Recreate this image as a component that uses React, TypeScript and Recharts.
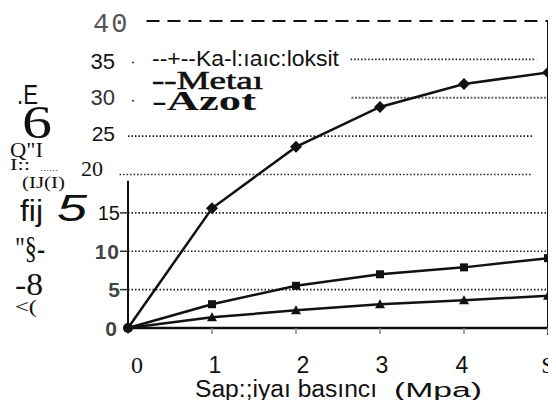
import React from "react";
import {
  LineChart,
  Line,
  XAxis,
  YAxis,
  ReferenceLine,
  ReferenceDot,
} from "recharts";

// values
const pressure = [0, 1, 2, 3, 4, 5];
const karbondioksit = [0, 15.6, 23.6, 28.8, 31.8, 33.3];
const metan = [0, 3.1, 5.5, 7.0, 7.9, 9.1];
const azot = [0, 1.4, 2.3, 3.1, 3.6, 4.2];
const yTicks = [0, 5, 10, 15, 20, 25, 30, 35, 40];
const xTickLabels = ["0", "1", "2", "3", "4", "S"];
const seriesNames = ["Ka-l:ıaıc:loksit", "Metaı", "Azot"];
const legendPrefixes = ["--+--", "--", "-"];
const xTitle = "Sap:;iyaı basıncı";
const xUnit = "(Mpa)";

const data = pressure.map((p, i) => ({
  p,
  co2: karbondioksit[i],
  ch4: metan[i],
  n2: azot[i],
}));

const SANS = "'Liberation Sans', Arial, sans-serif";
const SERIF = "'Liberation Serif', 'Times New Roman', serif";
const MONO = "'Liberation Mono', 'DejaVu Sans Mono', monospace";

// per-tick look of the y labels (they are all a bit different in the scan)
const yTickLook: Record<number, any> = {
  40: { x: 85, anchor: "start", font: MONO, size: 27, fill: "#555", dy: 4, ls: 2 },
  35: { x: 107, anchor: "end", font: SANS, size: 22, fill: "#111", dy: 2, dot: true },
  30: { x: 107, anchor: "end", font: SANS, size: 22, fill: "#333", dy: 0, dot: true },
  25: { x: 107, anchor: "end", font: SANS, size: 21, fill: "#111", dy: -3 },
  20: { x: 95, anchor: "end", font: SERIF, size: 22, fill: "#111", dy: -6 },
  15: { x: 112, anchor: "end", font: SANS, size: 20, fill: "#111", dy: 0, mark: true },
  10: { x: 112, anchor: "end", font: SANS, size: 21, fill: "#444", weight: 700, dy: 0, ls: 1, mark: true },
  5: { x: 112, anchor: "end", font: SANS, size: 21, fill: "#444", weight: 700, dy: 0, mark: true },
  0: { x: 109, anchor: "end", font: SANS, size: 21, fill: "#444", weight: 700, dy: 0 },
};

// label centres are a little off the tick positions in the scan
const xTickShift = [9, 3, 7, 2, -2, 0];

function YTick(props: any) {
  const { y, payload } = props;
  const look = yTickLook[payload.value];
  if (!look) return <g />;
  return (
    <g>
      <text
        x={look.x}
        y={y + look.dy}
        textAnchor={look.anchor}
        dominantBaseline="central"
        fontFamily={look.font}
        fontSize={look.size}
        fontWeight={look.weight || 400}
        fill={look.fill}
        letterSpacing={look.ls || 0}
      >
        {payload.value}
      </text>
      {look.dot && <circle cx={125} cy={y + 3} r={1} fill="#333" />}
      {look.mark && <line x1={112} x2={120} y1={y} y2={y} stroke="#333" strokeWidth={1.5} />}
    </g>
  );
}

function XTick(props: any) {
  const { x, payload, index } = props;
  const label = xTickLabels[index] ?? String(payload.value);
  const serif = label === "S" || label === "0";
  return (
    <text
      x={x + (xTickShift[index] || 0)}
      y={357}
      textAnchor="middle"
      dominantBaseline="central"
      fontFamily={serif ? SERIF : SANS}
      fontSize={serif ? 24 : 23}
      fill="#111"
    >
      {label}
    </text>
  );
}

function marker(kind: string) {
  return (props: any) => {
    const { cx, cy, index, payload } = props;
    if (payload.p === 0 || cx == null) return <g key={`m-${kind}-${index}`} />;
    if (kind === "diamond") {
      const s = 6;
      return (
        <polygon
          key={`m-${kind}-${index}`}
          points={`${cx},${cy - s} ${cx + s},${cy} ${cx},${cy + s} ${cx - s},${cy}`}
          fill="#111"
        />
      );
    }
    if (kind === "square") {
      return <rect key={`m-${kind}-${index}`} x={cx - 4} y={cy - 4} width={8} height={8} fill="#111" />;
    }
    return (
      <polygon
        key={`m-${kind}-${index}`}
        points={`${cx},${cy - 5} ${cx + 5},${cy + 4} ${cx - 5},${cy + 4}`}
        fill="#111"
      />
    );
  };
}

const legendLook = [
  { font: SANS, size: 22, y: 50, len: 187, weight: 400, sw: 0 },
  { font: SERIF, size: 25, y: 72, len: 111, weight: 400, sw: 0.6 },
  { font: SERIF, size: 27, y: 93, len: 104, weight: 700, sw: 0 },
];

const dotted = { stroke: "#222", strokeWidth: 1.6, strokeDasharray: "1.5 2" };

// loose text bits of the y title, as they appear in the scan
const yTitleBits = [
  { t: ".E", x: 9, y: 86, font: SANS, size: 28, len: 21 },
  { t: "6", x: 14, y: 114, font: SERIF, size: 46, len: 30 },
  { t: 'Q"I', x: 2, y: 142, font: SERIF, size: 20, len: 33 },
  { t: "I::", x: 2, y: 156, font: SERIF, size: 16, len: 20 },
  { t: "......", x: 32, y: 160, font: SANS, size: 8, len: 18 },
  { t: "(IJ(I)", x: 14, y: 174, font: SERIF, size: 17, len: 43 },
  { t: "fij", x: 12, y: 202, font: SANS, size: 30, len: 23 },
  { t: "5", x: 49, y: 200, font: SANS, size: 36, len: 30, italic: true },
  { t: '"§-', x: 7, y: 240, font: SERIF, size: 32, len: 30 },
  { t: "-8", x: 7, y: 276, font: SERIF, size: 32, len: 28 },
  { t: "<(", x: 7, y: 299, font: SERIF, size: 18, len: 22 },
];

export default function App() {
  return (
    <div style={{ position: "relative", width: 548, height: 392 }}>
      <style>{"svg { overflow: visible; }"}</style>
      <LineChart
        width={548}
        height={392}
        data={data}
        margin={{ top: 13, right: 8, left: 60, bottom: 0 }}
      >
        <XAxis
          dataKey="p"
          type="number"
          domain={[0, 5]}
          ticks={pressure}
          axisLine={false}
          tickLine={{ stroke: "#888", strokeWidth: 1.5 }}
          tickSize={6}
          height={72}
          tick={<XTick />}
          interval={0}
        />
        <YAxis
          type="number"
          domain={[0, 40]}
          ticks={yTicks}
          axisLine={false}
          tickLine={false}
          width={60}
          tick={<YTick />}
          interval={0}
        />
        <ReferenceLine
          ifOverflow="visible"
          segment={[{ x: 0.22, y: 40 }, { x: 5, y: 40 }]}
          stroke="#111"
          strokeWidth={2}
          strokeDasharray="13 8"
        />
        <ReferenceLine ifOverflow="visible" segment={[{ x: 2.65, y: 35 }, { x: 4.86, y: 35 }]} {...dotted} />
        <ReferenceLine
          ifOverflow="visible"
          segment={[{ x: 2.66, y: 30 }, { x: 5, y: 30 }]}
          stroke="#666"
          strokeWidth={2}
          strokeDasharray="2 1.5"
        />
        <ReferenceLine ifOverflow="visible" segment={[{ x: 0, y: 25 }, { x: 4.83, y: 25 }]} {...dotted} />
        <ReferenceLine ifOverflow="visible" segment={[{ x: -0.1, y: 20 }, { x: 4.8, y: 20 }]} {...dotted} />
        <ReferenceLine ifOverflow="visible" segment={[{ x: 0, y: 15 }, { x: 5, y: 15 }]} {...dotted} />
        <ReferenceLine ifOverflow="visible" segment={[{ x: 0, y: 10 }, { x: 5, y: 10 }]} {...dotted} />
        <ReferenceLine ifOverflow="visible" segment={[{ x: 0, y: 5 }, { x: 5, y: 5 }]} {...dotted} />
        <ReferenceLine ifOverflow="visible" segment={[{ x: 0, y: 0 }, { x: 0, y: 19.2 }]} stroke="#111" strokeWidth={2} />
        <ReferenceLine ifOverflow="visible" segment={[{ x: 5, y: -0.9 }, { x: 5, y: 40 }]} stroke="#111" strokeWidth={2} />
        <ReferenceLine ifOverflow="visible" segment={[{ x: -0.04, y: 0 }, { x: 5, y: 0 }]} stroke="#111" strokeWidth={2.5} />
        <Line
          name={seriesNames[0]}
          dataKey="co2"
          stroke="#111"
          strokeWidth={2.5}
          dot={marker("diamond")}
          isAnimationActive={false}
        />
        <Line
          name={seriesNames[1]}
          dataKey="ch4"
          stroke="#111"
          strokeWidth={2.5}
          dot={marker("square")}
          isAnimationActive={false}
        />
        <Line
          name={seriesNames[2]}
          dataKey="n2"
          stroke="#111"
          strokeWidth={2.5}
          dot={marker("triangle")}
          isAnimationActive={false}
        />
        <ReferenceDot x={0} y={0} r={5} fill="#111" stroke="none" ifOverflow="visible" />
      </LineChart>
      <svg
        width={548}
        height={392}
        style={{ position: "absolute", left: 0, top: 0, pointerEvents: "none", overflow: "visible" }}
      >
        {/* legend, as scanned */}
        {seriesNames.map((name, i) => (
          <text
            key={name}
            x={144}
            y={legendLook[i].y}
            dominantBaseline="central"
            fontFamily={legendLook[i].font}
            fontSize={legendLook[i].size}
            fontWeight={legendLook[i].weight}
            textLength={legendLook[i].len}
            lengthAdjust="spacingAndGlyphs"
            fill="#111"
            stroke="#111"
            strokeWidth={legendLook[i].sw}
          >
            {legendPrefixes[i]}
            {name}
          </text>
        ))}
        <text
          x={187}
          y={381}
          dominantBaseline="central"
          fontFamily={SANS}
          fontSize={23}
          textLength={182}
          lengthAdjust="spacingAndGlyphs"
          fill="#111"
        >
          {xTitle}
        </text>
        <text
          x={386}
          y={382}
          dominantBaseline="central"
          fontFamily={SANS}
          fontSize={20}
          textLength={88}
          lengthAdjust="spacingAndGlyphs"
          fill="#111"
        >
          {xUnit}
        </text>
        {yTitleBits.map((b) => (
          <text
            key={b.t}
            x={b.x}
            y={b.y}
            dominantBaseline="central"
            fontFamily={b.font}
            fontSize={b.size}
            fontStyle={b.italic ? "italic" : "normal"}
            textLength={b.len}
            lengthAdjust="spacingAndGlyphs"
            fill="#111"
          >
            {b.t}
          </text>
        ))}
      </svg>
    </div>
  );
}
